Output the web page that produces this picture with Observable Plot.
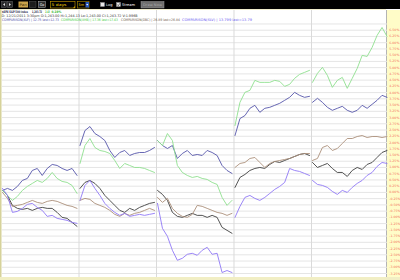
<!DOCTYPE html>
<html><head><meta charset="utf-8">
<script src="https://cdn.jsdelivr.net/npm/d3@7"></script>
<script src="https://cdn.jsdelivr.net/npm/@observablehq/plot@0.6"></script>
<style>
body{margin:0;background:#fff;}
#wrap{position:relative;width:400px;height:280px;overflow:hidden;background:#fff;font-family:"DejaVu Sans",sans-serif;}
#panel{position:absolute;left:386px;top:10px;width:14px;height:270px;background:#fffcc8;border-left:1px solid #b4b4b4;box-sizing:border-box;}
#chart{position:absolute;left:0;top:10px;}
#hud{position:absolute;left:0;top:0;pointer-events:none;}
</style>
</head><body>
<div id="wrap">
  <div id="panel"></div>
  <div id="chart"></div>
  <svg id="hud" width="400" height="280" font-family="DejaVu Sans, sans-serif">
    <!-- toolbar -->
    <rect x="0" y="0" width="400" height="9" fill="#000"/>
    <rect x="0" y="9" width="386" height="1" fill="#efeccc"/>
    <rect x="0" y="9" width="1.5" height="271" fill="#d6d29a"/>
    <rect x="1.5" y="1.5" width="5" height="6" fill="#2a2a2a" stroke="#6a6a6a" stroke-width="0.5"/>
    <polygon points="5,3 5,6 3,4.5" fill="#ddd"/>
    <rect x="7.5" y="1.5" width="5" height="6" fill="#2a2a2a" stroke="#6a6a6a" stroke-width="0.5"/>
    <polygon points="9,3 9,6 11,4.5" fill="#ddd"/>
    <rect x="18.5" y="1.5" width="9.5" height="6" fill="#c9a24a"/>
    <text data-x="19.5" data-y="6" data-w="7.5" font-size="3.4" fill="#3a2a00">Pan</text>
    <rect x="29.5" y="1.5" width="6.5" height="6" fill="#1c1c1c" stroke="#555" stroke-width="0.5"/>
    <rect x="38.5" y="1.5" width="7" height="6" fill="#303030" stroke="#b0b0b0" stroke-width="0.5"/>
    <text data-x="39.7" data-y="6" data-w="4.6" font-size="3.6" fill="#fff">Go</text>
    <rect x="50.5" y="1.5" width="24.5" height="6.5" fill="#000" stroke="#c89a00" stroke-width="0.6"/>
    <text data-x="51.5" data-y="6.2" data-w="15" font-size="3.8" fill="#ffd200">5 days</text>
    <polygon points="75,6 75,8 73,8" fill="#c89a00"/>
    <rect x="77.5" y="1.5" width="11.5" height="6.5" fill="#000" stroke="#b08a00" stroke-width="0.6"/>
    <text data-x="78.5" data-y="6.2" data-w="5.5" font-size="3.8" fill="#ffd200">5m</text>
    <rect x="85.5" y="2" width="3.5" height="5.5" fill="#2a58b8"/>
    <polygon points="86.2,4 88.3,4 87.25,5.4" fill="#fff"/>
    <rect x="100.5" y="2.5" width="4" height="4" fill="#e8e8e8" stroke="#999" stroke-width="0.4"/>
    <text data-x="106" data-y="6" data-w="6.5" font-size="3.6" fill="#fff">Log</text>
    <rect x="116.5" y="2.5" width="4" height="4" fill="#e8e8e8" stroke="#999" stroke-width="0.4"/>
    <path d="M117.3,4.5 L118.3,5.7 L120,3.2" stroke="#222" stroke-width="0.6" fill="none"/>
    <text data-x="122" data-y="6" data-w="13" font-size="3.6" fill="#fff">Stream</text>
    <rect x="141" y="1.5" width="23" height="6.5" fill="#6e6e6e" stroke="#9a9a9a" stroke-width="0.5"/>
    <text data-x="143" data-y="6.2" data-w="19" font-size="3.4" fill="#a8a8a8">Draw Now</text>
    <!-- header legend -->
    <text data-x="2" data-y="12.8" data-w="26" font-size="3.3" font-weight="bold" fill="#1c1c48">$SPX S&amp;P 500 Index</text>
    <text data-x="32" data-y="12.8" data-w="10" font-size="3.3" font-weight="bold" fill="#1c1c48">1,243.72</text>
    <text data-x="45.3" data-y="12.8" data-w="4.4" font-size="3.3" font-weight="bold" fill="#2fb62f">2.43</text>
    <text data-x="51.5" data-y="12.8" data-w="10" font-size="3.3" font-weight="bold" fill="#2fb62f">0.19%</text>
    <text data-x="1.5" data-y="17" data-w="136" font-size="3.4" fill="#333">D: 12/21/2011   3:30pm  O:1,243.00  Hi:1,244.13  Lo:1,243.00  Cl:1,243.72  V:1.996B</text>
    <text data-x="2" data-y="21.3" data-w="57" font-size="3.4" fill="#4a4aa6">COMPARISON(XLF) | 12.75 last=12.73</text>
    <text data-x="61" data-y="21.3" data-w="57" font-size="3.4" fill="#3ccc3c">COMPARISON(XHB) | 17.36 last=17.43</text>
    <text data-x="121" data-y="21.3" data-w="59" font-size="3.4" fill="#6e5a4a">COMPARISON(DBC) | 26.89 last=26.84</text>
    <text data-x="182" data-y="21.3" data-w="70" font-size="3.4" fill="#6b5cf0">COMPARISON(SLV) | 13.799 last=13.79</text>
    <!-- bottom band -->
    <rect x="0" y="277" width="400" height="3" fill="#f1eec4"/>
  </svg>
</div>
<script>
// ---- data ----
const days = ["12/15", "12/16", "12/19", "12/20", "12/21"];
const bars = [0, 5, 10, 15, 20, 25, 30, 35, 40, 45, 50, 55, 60, 65, 70, 75]; // 5-min bar index within each session
const seriesNames = ["$SPX", "XLF", "XHB", "DBC", "SLV"];
const seriesColors = ["#404040", "#5656aa", "#8ee08e", "#ab907a", "#9078f6"];

const spx = [
  0.08, -0.12, -0.52, -0.64, -0.68, -0.64, -0.72, -0.64, -0.60, -0.64, -0.64, -0.80, -1.00, -1.04, -1.20, -1.36,
  0.16, 0.40, 0.48, 0.36, 0.16, -0.12, -0.32, -0.52, -0.72, -0.80, -0.64, -0.72, -0.60, -0.52, -0.44, -0.40,
  0.08, -0.08, -0.32, -0.80, -0.96, -1.00, -0.92, -0.84, -0.92, -0.92, -1.00, -0.92, -1.00, -1.40, -1.52, -1.64,
  0.20, 0.60, 0.72, 0.88, 0.96, 1.00, 0.96, 1.12, 1.24, 1.20, 1.28, 1.36, 1.44, 1.52, 1.56, 1.48,
  1.20, 1.00, 1.08, 1.16, 0.96, 0.80, 0.80, 0.64, 0.88, 1.00, 0.92, 1.12, 1.20, 1.40, 1.60, 1.68
];
const xlf = [
  0.08, 0.16, 0.08, 0.24, 0.48, 0.56, 0.88, 0.96, 0.68, 0.96, 1.12, 1.08, 0.96, 0.88, 0.96, 0.68,
  1.88, 2.48, 2.64, 2.36, 2.24, 2.08, 1.68, 1.40, 1.60, 1.68, 1.48, 1.56, 1.60, 1.60, 1.68, 1.80,
  2.08, 1.88, 1.76, 1.88, 1.36, 1.56, 1.68, 1.48, 1.52, 1.48, 1.68, 1.60, 1.48, 1.08, 0.88, 0.76,
  2.28, 2.96, 3.08, 3.37, 3.49, 3.21, 3.37, 3.41, 3.49, 3.57, 3.69, 3.81, 4.01, 3.89, 3.81, 3.85,
  3.61, 3.77, 3.61, 3.41, 3.29, 3.37, 3.45, 3.29, 3.21, 3.29, 3.49, 3.37, 3.53, 3.69, 3.89, 3.81
];
const xhb = [
  0.08, -0.12, -0.32, -0.16, 0.08, 0.24, 0.36, 0.48, 0.40, 0.56, 0.80, 0.56, 0.44, 0.40, 0.28, -0.04,
  1.16, 1.88, 2.16, 1.80, 1.68, 1.64, 1.56, 1.28, 0.96, 1.16, 1.08, 1.00, 1.00, 0.96, 0.88, 0.80,
  2.08, 1.88, 2.36, 2.08, 1.08, 0.80, 0.68, 0.60, 0.64, 0.56, 0.52, 0.40, 0.32, -0.20, -0.52, -0.32,
  2.68, 3.61, 4.01, 4.09, 4.49, 4.41, 4.41, 4.41, 4.49, 4.45, 4.25, 4.33, 4.57, 4.73, 4.81, 4.89,
  4.41, 4.77, 5.01, 4.69, 4.21, 4.49, 4.61, 4.17, 4.57, 4.97, 5.49, 5.45, 5.81, 6.29, 6.61, 6.25
];
const dbc = [
  0.00, -0.24, -0.56, -0.52, -0.48, -0.40, -0.32, -0.40, -0.44, -0.36, -0.32, -0.36, -0.44, -0.52, -0.56, -0.64,
  -0.32, -0.24, -0.28, -0.44, -0.52, -0.60, -0.72, -0.88, -0.96, -0.84, -0.92, -0.84, -0.80, -0.72, -0.64, -0.72,
  -0.20, -0.40, -0.24, -0.64, -0.84, -0.96, -1.00, -0.88, -0.52, -0.56, -0.64, -0.72, -0.80, -0.84, -0.92, -0.84,
  1.00, 1.16, 1.20, 1.36, 1.40, 1.20, 1.00, 1.16, 1.24, 1.28, 1.32, 1.36, 1.44, 1.52, 1.56, 1.56,
  1.28, 1.36, 1.80, 1.88, 1.68, 1.76, 1.96, 2.16, 2.16, 2.24, 2.28, 2.20, 2.24, 2.24, 2.20, 2.24
];
const slv = [
  0.16, -0.12, -0.80, -0.76, -0.64, -0.48, -0.44, -0.60, -0.72, -0.96, -0.92, -1.04, -1.08, -1.12, -1.20, -1.24,
  -0.32, 0.28, 0.48, 0.16, -0.12, -0.44, -0.64, -0.80, -0.92, -0.84, -0.96, -0.92, -0.88, -0.92, -0.88, -0.84,
  -0.44, -1.44, -1.76, -2.32, -2.72, -2.64, -2.48, -2.44, -2.52, -2.32, -2.20, -2.48, -2.44, -3.21, -3.13, -3.21,
  -1.00, -0.56, -0.20, -0.12, -0.24, -0.32, -0.20, -0.04, 0.12, 0.24, 0.40, 0.96, 0.88, 0.84, 0.76, 0.68,
  0.48, 0.32, 0.28, 0.20, 0.04, -0.08, 0.08, 0.00, 0.20, 0.36, 0.48, 0.68, 0.80, 1.04, 1.20, 1.16
];
const yTickLabels = d3.range(-13, 27).map(i => i * 0.25);   // -3.25% .. 6.50%
const gridValues = d3.range(-13, 28).map(i => i * 0.25);    // -3.25% .. 6.75%
const barsPerDay = 78;

// ---- table ----
const allValues = [spx, xlf, xhb, dbc, slv];
const rows = [];
allValues.forEach((vals, s) => {
  vals.forEach((v, i) => {
    const day = Math.floor(i / bars.length);
    rows.push({series: seriesNames[s], day, t: day * barsPerDay + bars[i % bars.length], value: v});
  });
});
const dayBreaks = days.slice(1).map((d, i) => (i + 1) * barsPerDay - 1);

const chart = Plot.plot({
  width: 400,
  height: 270,
  marginLeft: 2,
  marginRight: 13,
  marginTop: 0,
  marginBottom: 0,
  style: {background: "transparent", overflow: "visible", fontFamily: "DejaVu Sans, sans-serif"},
  x: {domain: [0, 387.5], axis: null},
  y: {domain: [-3.53, 7.29], axis: null},
  color: {domain: seriesNames, range: seriesColors},
  marks: [
    Plot.ruleY(gridValues, {stroke: "#e5e5e5", strokeWidth: 1}),
    Plot.ruleX(dayBreaks, {stroke: "#dadada", strokeWidth: 1}),
    Plot.line(rows, {x: "t", y: "value", z: d => d.series + "-" + d.day, stroke: "series", strokeWidth: 0.9}),
    Plot.text(yTickLabels, {
      y: d => d, text: d => d.toFixed(2) + "%", frameAnchor: "right", textAnchor: "start",
      dx: 1.8, fill: "#f2705e", fontSize: 3.2
    })
  ]
});
document.getElementById("chart").appendChild(chart);

// fit the tiny toolbar / legend texts to their widths by horizontal scaling
document.querySelectorAll("#hud text[data-w]").forEach(t => {
  const len = t.getComputedTextLength() || 1;
  const sx = (+t.dataset.w) / len;
  t.setAttribute("transform", `translate(${t.dataset.x},${t.dataset.y}) scale(${sx},1)`);
});
</script>
</body></html>
